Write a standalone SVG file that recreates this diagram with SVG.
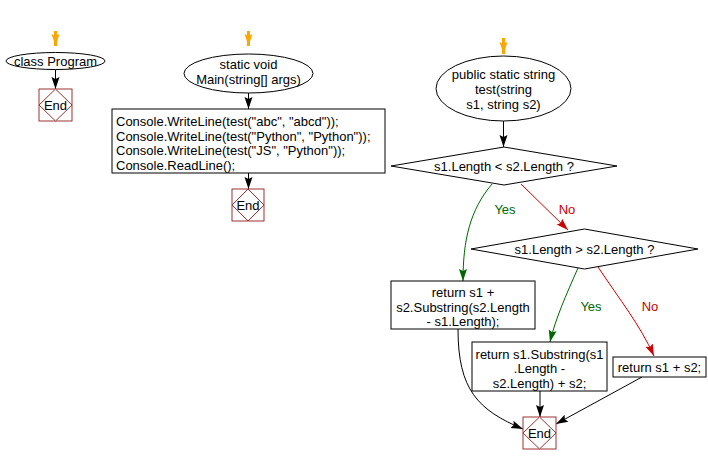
<svg xmlns="http://www.w3.org/2000/svg" width="708" height="465" viewBox="0 0 708 465">
<defs>
<style>
text{font-family:"Liberation Sans",Arial,sans-serif;font-size:13px;fill:#000}
.c{text-anchor:middle}
.shape{fill:#fff;stroke:#000;stroke-width:1}
.endb{fill:#fff;stroke:#993333;stroke-width:1}
.ln{fill:none;stroke:#000;stroke-width:1}
.g{fill:none;stroke:#006600;stroke-width:1}
.r{fill:none;stroke:#cc0000;stroke-width:1}
.o{fill:none;stroke:#ffa500;stroke-width:3}
</style>
<marker id="ab" markerUnits="userSpaceOnUse" markerWidth="14" markerHeight="10" refX="12" refY="5" orient="auto"><path d="M0,1 L12,5 L0,9 L2,5 Z" fill="#000"/></marker>
<marker id="ag" markerUnits="userSpaceOnUse" markerWidth="14" markerHeight="10" refX="12" refY="5" orient="auto"><path d="M0,1 L12,5 L0,9 L2,5 Z" fill="#006600"/></marker>
<marker id="ar" markerUnits="userSpaceOnUse" markerWidth="14" markerHeight="10" refX="12" refY="5" orient="auto"><path d="M0,1 L12,5 L0,9 L2,5 Z" fill="#cc0000"/></marker>
<marker id="ao" markerUnits="userSpaceOnUse" markerWidth="14" markerHeight="10" refX="12" refY="5" orient="auto"><path d="M0,1 L12,5 L0,9 L2,5 Z" fill="#ffa500"/></marker>
</defs>
<g id="connectors">
<path class="o" d="M55.5,31 L55.5,46" marker-end="url(#ao)"/>
<path class="o" d="M248.5,31 L248.5,46" marker-end="url(#ao)"/>
<path class="o" d="M503.5,38 L503.5,54" marker-end="url(#ao)"/>
<path class="ln" d="M55.5,69.5 L55.5,89" marker-end="url(#ab)"/>
<path class="ln" d="M248.5,93 L248.5,109" marker-end="url(#ab)"/>
<path class="ln" d="M248.5,173 L248.5,189" marker-end="url(#ab)"/>
<path class="ln" d="M503.5,121 L503.5,147" marker-end="url(#ab)"/>
<path class="g" d="M492,184 C470,210 463,240 463,281" marker-end="url(#ag)"/>
<path class="r" d="M521,184 L568,230" marker-end="url(#ar)"/>
<path class="g" d="M578,268 C566,295 555,320 550,342" marker-end="url(#ag)"/>
<path class="r" d="M598,267 C620,300 640,325 654,356" marker-end="url(#ar)"/>
<path class="ln" d="M458,329 C458,390 478,410 523,429" marker-end="url(#ab)"/>
<path class="ln" d="M540,391 L540,417" marker-end="url(#ab)"/>
<path class="ln" d="M642,377 L556,424" marker-end="url(#ab)"/>
<text x="505" y="213.5" class="c" style="fill:#006600">Yes</text>
<text x="567" y="213.5" class="c" style="fill:#cc0000">No</text>
<text x="591" y="310.5" class="c" style="fill:#006600">Yes</text>
<text x="650" y="310.5" class="c" style="fill:#cc0000">No</text>
</g>
<g id="classProgram">
<ellipse class="shape" cx="55.5" cy="61" rx="49.5" ry="8.5"/>
<text x="55.5" y="65.5" class="c">class Program</text>
</g>
<g id="end1">
<rect class="endb" x="39" y="89" width="33" height="32"/>
<path class="endb" d="M55.5,89 L72,105 L55.5,121 L39,105 Z"/>
<text x="55.5" y="109.5" class="c">End</text>
</g>
<g id="main">
<ellipse class="shape" cx="248.5" cy="73.5" rx="64.5" ry="19.5"/>
<text x="248.5" y="69" class="c">static void</text>
<text x="248.5" y="83.5" class="c">Main(string[] args)</text>
</g>
<g id="mainBody">
<rect class="shape" x="112" y="109" width="273" height="64"/>
<text x="116" y="126">Console.WriteLine(test("abc", "abcd"));</text>
<text x="116" y="140.5">Console.WriteLine(test("Python", "Python"));</text>
<text x="116" y="155">Console.WriteLine(test("JS", "Python"));</text>
<text x="116" y="169.5">Console.ReadLine();</text>
</g>
<g id="end2">
<rect class="endb" x="232" y="189" width="32" height="32"/>
<path class="endb" d="M248,189 L264,205 L248,221 L232,205 Z"/>
<text x="248" y="209.5" class="c">End</text>
</g>
<g id="testFn">
<ellipse class="shape" cx="503.5" cy="88.5" rx="67.5" ry="32.5"/>
<text x="503.5" y="78.5" class="c">public static string</text>
<text x="503.5" y="94" class="c">test(string</text>
<text x="503.5" y="109" class="c">s1, string s2)</text>
</g>
<g id="cond1">
<path class="shape" d="M391,166 L504,147 L617,166 L504,185 Z"/>
<text x="504" y="171" class="c">s1.Length &lt; s2.Length ?</text>
</g>
<g id="cond2">
<path class="shape" d="M471,249 L584.5,229 L698,249 L584.5,269 Z"/>
<text x="584.5" y="254" class="c">s1.Length &gt; s2.Length ?</text>
</g>
<g id="ret1">
<rect class="shape" x="391" y="281" width="144" height="48"/>
<text x="463" y="296.5" class="c">return s1 +</text>
<text x="463" y="311.5" class="c">s2.Substring(s2.Length</text>
<text x="463" y="326" class="c">- s1.Length);</text>
</g>
<g id="ret2">
<rect class="shape" x="472" y="342" width="135" height="49"/>
<text x="539.5" y="358.5" class="c">return s1.Substring(s1</text>
<text x="539.5" y="373" class="c">.Length -</text>
<text x="539.5" y="387.5" class="c">s2.Length) + s2;</text>
</g>
<g id="ret3">
<rect class="shape" x="613" y="357" width="93" height="20"/>
<text x="659.5" y="371.5" class="c">return s1 + s2;</text>
</g>
<g id="end3">
<rect class="endb" x="523" y="417" width="33" height="32"/>
<path class="endb" d="M539.5,417 L556,433 L539.5,449 L523,433 Z"/>
<text x="539.5" y="437.5" class="c">End</text>
</g>
</svg>
